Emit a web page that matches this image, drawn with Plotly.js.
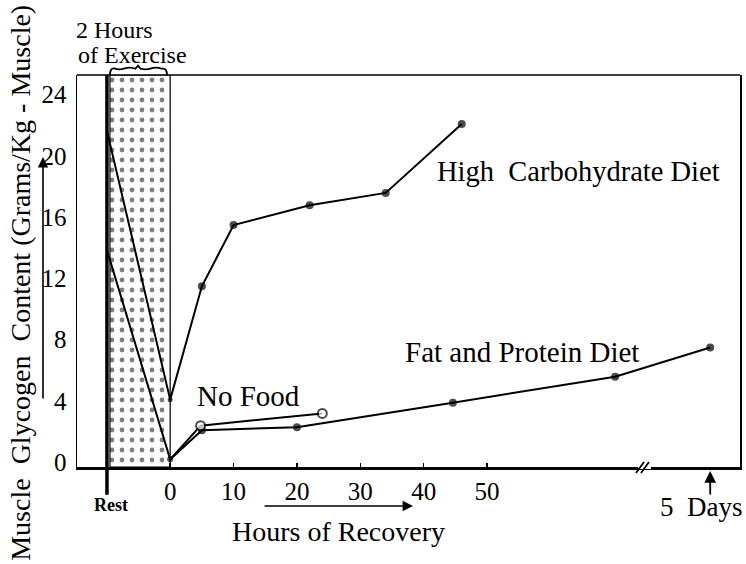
<!DOCTYPE html>
<html>
<head>
<meta charset="utf-8">
<script src="https://cdn.plot.ly/plotly-3.0.1.min.js"></script>
<style>html,body{margin:0;padding:0;background:#fff;}#chart{width:746px;height:564px;}</style>
</head>
<body>
<div id="chart"></div>
<script>
// ---- data ----
const hcHours = [-10, 0, 5, 10, 22, 34, 46];
const hcGlycogen = [22.0, 4.4, 11.8, 15.8, 17.1, 17.9, 22.4];
const fpHours = [-10, 0, 5, 20, 44.6, 70.2, 85.2];
const fpGlycogen = [14.2, 0.5, 2.4, 2.6, 4.2, 5.9, 7.8];
const nfHours = [0, 4.8, 24];
const nfGlycogen = [0.5, 2.7, 3.5];
const xTicks = [0, 10, 20, 30, 40, 50];
const yTicks = [0, 4, 8, 12, 16, 20, 24];
const restHour = -10;
const exerciseStart = -9.5;
const exerciseEnd = 0;
const fiveDaysHour = 85.2;
const yMax = 25.6;

const FONT = 'Liberation Serif, Times New Roman, serif';

const traces = [
  {
    type: 'bar',
    x: [(exerciseStart + exerciseEnd) / 2],
    y: [yMax],
    width: [exerciseEnd - exerciseStart],
    base: 0,
    marker: {
      color: 'white',
      line: {color: 'black', width: 1.2},
      pattern: {shape: '.', fgcolor: 'black', bgcolor: 'white', size: 10, solidity: 0.18, fillmode: 'overlay'}
    },
    hoverinfo: 'skip',
    showlegend: false
  },
  {
    type: 'scatter', mode: 'lines+markers',
    x: hcHours, y: hcGlycogen,
    line: {color: 'black', width: 2},
    marker: {color: 'black', size: hcHours.map(h => h < exerciseStart ? 0 : (h === 0 ? 5 : 8)), line: {color: 'black', width: 0}},
    cliponaxis: false,
    showlegend: false
  },
  {
    type: 'scatter', mode: 'lines+markers',
    x: fpHours, y: fpGlycogen,
    line: {color: 'black', width: 2},
    marker: {color: 'black', size: fpHours.map(h => h < exerciseStart ? 0 : (h === 0 ? 6 : 8)), line: {color: 'black', width: 0}},
    cliponaxis: false,
    showlegend: false
  },
  {
    type: 'scatter', mode: 'lines+markers',
    x: nfHours, y: nfGlycogen,
    line: {color: 'black', width: 2},
    marker: {color: 'white', size: nfHours.map(h => h === 0 ? 0 : 9), line: {color: 'black', width: 2}},
    cliponaxis: false,
    showlegend: false
  }
];

function ann(text, x, y, size, xanchor, extra) {
  return Object.assign({
    text: text, xref: 'paper', yref: 'paper', x: x, y: y,
    xanchor: xanchor || 'left', yanchor: 'middle', showarrow: false,
    font: {family: FONT, size: size, color: 'black'}
  }, extra || {});
}

const layout = {
  width: 746, height: 564,
  margin: {l: 77, r: 6, t: 75, b: 97},
  paper_bgcolor: 'white', plot_bgcolor: 'white',
  showlegend: false,
  bargap: 0,
  xaxis: {
    range: [-14.7, 89.9],
    tickvals: xTicks,
    ticktext: xTicks.map(String),
    ticks: 'inside', ticklen: 4, tickwidth: 1.5, tickcolor: 'black',
    ticklabelstandoff: 0,
    tickfont: {family: FONT, size: 25, color: 'black'},
    showgrid: false, zeroline: false,
    showline: true, linecolor: 'black', linewidth: 2.5
  },
  yaxis: {
    range: [0, yMax],
    tickvals: yTicks,
    ticktext: yTicks.map(String),
    ticks: '',
    ticklabelstandoff: 4,
    ticklabelshift: -5,
    tickfont: {family: FONT, size: 25, color: 'black'},
    showgrid: false, zeroline: false,
    showline: true, mirror: true, linecolor: 'black', linewidth: 1.5
  },
  shapes: [
    // top frame line
    {type: 'line', xref: 'paper', yref: 'paper', x0: 0, x1: 1, y0: 1, y1: 1, line: {color: 'black', width: 1.5}},
    // thick "Rest" line
    {type: 'line', xref: 'paper', yref: 'paper', x0: 0.0452, x1: 0.0452, y0: -0.071, y1: 1, line: {color: 'black', width: 3.5}},
    // axis break
    {type: 'line', xref: 'paper', yref: 'paper', x0: 0.8462, x1: 0.8658, y0: 0, y1: 0, line: {color: 'white', width: 4}},
    {type: 'line', xref: 'paper', yref: 'paper', x0: 0.8431, x1: 0.8552, y0: -0.0153, y1: 0.0128, line: {color: 'black', width: 1.8}},
    {type: 'line', xref: 'paper', yref: 'paper', x0: 0.8507, x1: 0.8627, y0: -0.0153, y1: 0.0128, line: {color: 'black', width: 1.8}},
    // wavy brace over exercise period
    {type: 'path', xref: 'paper', yref: 'paper',
     path: 'M 0.0498,1 Q 0.0498,1.018 0.056,1.017 Q 0.064,1.012 0.072,1.017 Q 0.080,1.021 0.088,1.016 L 0.092,1.024 L 0.096,1.016 Q 0.104,1.012 0.112,1.017 Q 0.120,1.021 0.128,1.016 Q 0.1357,1.018 0.1357,1',
     line: {color: 'black', width: 1.8}}
  ],
  annotations: [
    ann('2 Hours', -0.004, 1.1148, 24),
    ann('of Exercise', -0.002, 1.051, 24),
    ann('High  Carbohydrate Diet', 0.540, 0.7526, 28.5),
    ann('Fat and Protein Diet', 0.4917, 0.2934, 29),
    ann('No Food', 0.178, 0.182, 29),
    ann('<b>Rest</b>', 0.0513, -0.0969, 18, 'center'),
    ann('Hours of Recovery', 0.2308, -0.1658, 28),
    ann('5  Days', 1.0075, -0.102, 27, 'right'),
    ann('Muscle  Glycogen  Content (Grams/Kg - Muscle)', -0.085, 0.469, 28, 'center', {textangle: -90}),
    // arrows
    {text: '', xref: 'paper', yref: 'paper', x: 0.5068, y: -0.0995, ax: -150, ay: 0,
     showarrow: true, arrowhead: 2, arrowsize: 1.3, arrowwidth: 1.6, arrowcolor: 'black'},
    {text: '', xref: 'paper', yref: 'paper', x: -0.0513, y: 0.7908, ax: 0, ay: 243,
     showarrow: true, arrowhead: 2, arrowsize: 1.3, arrowwidth: 1.6, arrowcolor: 'black'},
    {text: '', xref: 'x', yref: 'paper', x: fiveDaysHour, y: -0.0102, ax: 0, ay: 25,
     showarrow: true, arrowhead: 2, arrowsize: 1.3, arrowwidth: 1.8, arrowcolor: 'black'}
  ]
};

Plotly.newPlot('chart', traces, layout, {staticPlot: true, displayModeBar: false});
</script>
</body>
</html>
